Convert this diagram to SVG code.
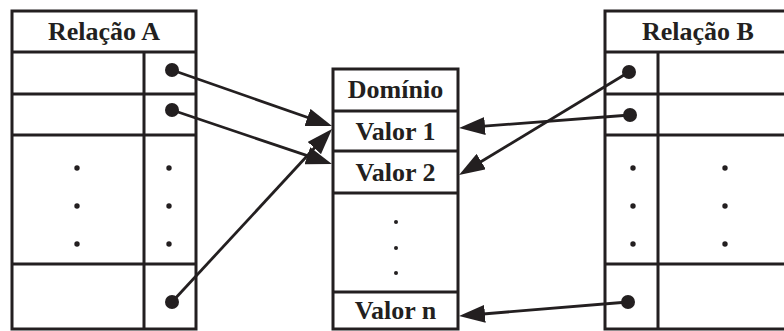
<svg xmlns="http://www.w3.org/2000/svg" width="784" height="331" viewBox="0 0 784 331">
  <style>
    .frame { fill: #fff; stroke: #231f20; stroke-width: 3; }
    .rule { stroke: #231f20; stroke-width: 3; fill: none; }
    .title { font-family: "Liberation Serif", "Times New Roman", serif; font-weight: bold; font-size: 26px; fill: #231f20; text-anchor: middle; }
    .pin { fill: #231f20; }
    .dot { fill: #231f20; }
    .link { stroke: #231f20; stroke-width: 2.8; fill: none; marker-end: url(#head); }
  </style>
  <defs>
    <marker id="head" markerUnits="userSpaceOnUse" markerWidth="26" markerHeight="18" refX="14" refY="9" orient="auto">
      <path d="M0,0 L26,9 L0,18 Z" fill="#231f20"/>
    </marker>
  </defs>
  <rect width="784" height="331" fill="#fff"/>

  <!-- Relação A -->
  <g id="relacao-a">
    <rect class="frame" x="12" y="11" width="184" height="318"/>
    <line class="rule" x1="12" y1="52" x2="196" y2="52"/>
    <line class="rule" x1="12" y1="94" x2="196" y2="94"/>
    <line class="rule" x1="12" y1="135" x2="196" y2="135"/>
    <line class="rule" x1="12" y1="264" x2="196" y2="264"/>
    <line class="rule" x1="144" y1="52" x2="144" y2="329"/>
    <text class="title" x="104" y="40">Relação A</text>
    <circle class="dot" cx="77" cy="168" r="2.7"/>
    <circle class="dot" cx="77" cy="206" r="2.7"/>
    <circle class="dot" cx="77" cy="244" r="2.7"/>
    <circle class="dot" cx="169" cy="168" r="2.7"/>
    <circle class="dot" cx="169" cy="206" r="2.7"/>
    <circle class="dot" cx="169" cy="244" r="2.7"/>
    <circle class="pin" cx="172" cy="70" r="7"/>
    <circle class="pin" cx="172" cy="110" r="7"/>
    <circle class="pin" cx="172" cy="302" r="7"/>
  </g>

  <!-- Domínio -->
  <g id="dominio">
    <rect class="frame" x="333" y="69" width="125" height="260"/>
    <line class="rule" x1="333" y1="111" x2="458" y2="111"/>
    <line class="rule" x1="333" y1="151" x2="458" y2="151"/>
    <line class="rule" x1="333" y1="193" x2="458" y2="193"/>
    <line class="rule" x1="333" y1="292" x2="458" y2="292"/>
    <text class="title" x="395.5" y="98">Domínio</text>
    <text class="title" x="395.5" y="140">Valor 1</text>
    <text class="title" x="395.5" y="181">Valor 2</text>
    <text class="title" x="395.5" y="319">Valor n</text>
    <circle class="dot" cx="396" cy="222" r="2"/>
    <circle class="dot" cx="396" cy="248" r="2"/>
    <circle class="dot" cx="396" cy="273" r="2"/>
  </g>

  <!-- Relação B (runs past the right edge) -->
  <g id="relacao-b">
    <rect class="frame" x="605" y="11" width="190" height="318"/>
    <line class="rule" x1="605" y1="52" x2="795" y2="52"/>
    <line class="rule" x1="605" y1="94" x2="795" y2="94"/>
    <line class="rule" x1="605" y1="135" x2="795" y2="135"/>
    <line class="rule" x1="605" y1="264" x2="795" y2="264"/>
    <line class="rule" x1="658" y1="52" x2="658" y2="329"/>
    <text class="title" x="698" y="40">Relação B</text>
    <circle class="dot" cx="633" cy="168" r="2.7"/>
    <circle class="dot" cx="633" cy="206" r="2.7"/>
    <circle class="dot" cx="633" cy="244" r="2.7"/>
    <circle class="dot" cx="725" cy="168" r="2.7"/>
    <circle class="dot" cx="725" cy="206" r="2.7"/>
    <circle class="dot" cx="725" cy="244" r="2.7"/>
    <circle class="pin" cx="629" cy="72" r="7"/>
    <circle class="pin" cx="630" cy="115" r="7"/>
    <circle class="pin" cx="628" cy="302" r="7"/>
  </g>

  <!-- Connectors: each line stops 12px short of its tip; the marker supplies the rest -->
  <g id="connectors">
    <line class="link" x1="172" y1="70" x2="320.7" y2="122.0"/>
    <line class="link" x1="172" y1="110" x2="320.6" y2="160.2"/>
    <line class="link" x1="172" y1="302" x2="323.9" y2="137.8"/>
    <line class="link" x1="629" y1="72" x2="469.3" y2="168.8"/>
    <line class="link" x1="630" y1="115" x2="471.0" y2="127.1"/>
    <line class="link" x1="628" y1="302" x2="471.0" y2="315.0"/>
  </g>
</svg>
